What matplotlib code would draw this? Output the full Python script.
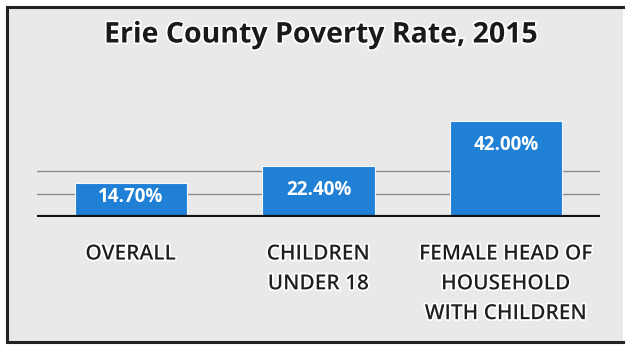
import matplotlib
matplotlib.use("Agg")
import matplotlib.pyplot as plt
from matplotlib.patches import Rectangle
from matplotlib.lines import Line2D
import matplotlib.patheffects as pe

categories = ["OVERALL", "CHILDREN\nUNDER 18", "FEMALE HEAD OF\nHOUSEHOLD\nWITH CHILDREN"]
poverty_rates = [14.7, 22.4, 42.0]
value_labels = ["14.70%", "22.40%", "42.00%"]
grid_levels = [10, 20]
title = "Erie County Poverty Rate, 2015"

plt.rcParams["font.family"] = ["Open Sans", "DejaVu Sans"]

W, H = 626, 345
fig = plt.figure(figsize=(W / 100, H / 100), dpi=100)
fig.patch.set_facecolor("white")

# gray panel with dark frame on left, top and bottom
panel_bg = "#e9e9e9"
fig.patches.append(Rectangle((7 / W, 1 - 342 / H), (623 - 7) / W, (342 - 7) / H,
                             transform=fig.transFigure, facecolor=panel_bg,
                             edgecolor="none", zorder=-2))
frame_kw = dict(transform=fig.transFigure, color="#222222", linewidth=2.2, zorder=-1)
fig.lines.append(Line2D([7 / W, 7 / W], [1 - 342 / H, 1 - 7 / H], **frame_kw))
fig.lines.append(Line2D([7 / W, 623 / W], [1 - 7 / H, 1 - 7 / H], **frame_kw))
fig.lines.append(Line2D([7 / W, 623 / W], [1 - 342 / H, 1 - 342 / H], **frame_kw))

halo = [pe.withStroke(linewidth=2.5, foreground="white")]

fig.text(321 / W, 1 - 35 / H, title, ha="center", va="center",
         fontsize=20.5, color="#1a1a1a", fontweight="bold", path_effects=halo)

ax_left, ax_right = 37, 600
base_y, top_y = 217, 102.5
ax = fig.add_axes([ax_left / W, 1 - base_y / H, (ax_right - ax_left) / W, (base_y - top_y) / H])
ax.set_zorder(2)
ax.set_facecolor("none")
ax.set_xlim(-0.5, 2.5)
ax.set_ylim(0, 50)

x = list(range(len(categories)))
for g in grid_levels:
    ax.axhline(g, color="#8c8c8c", linewidth=1.0, zorder=1)
ax.bar(x, poverty_rates, width=0.6, color="#1f80d6", edgecolor="#f4f8fc",
       linewidth=0.8, zorder=2)
ax.axhline(0, color="#111111", linewidth=3, zorder=3)

for xi, v, lab in zip(x, poverty_rates, value_labels):
    y = v - 10.6 if v - 10.6 > v / 2 else v / 2 + 1.2
    ax.text(xi, y, lab, ha="center", va="center", color="white",
            fontsize=13.5, fontweight="bold", zorder=4)

for xi, cat in zip(x, categories):
    ax.text(xi, -11.6, cat, ha="center", va="top", fontsize=15,
            color="#1e1e1e", fontweight="semibold", linespacing=1.55,
            path_effects=halo, clip_on=False)

for s in ax.spines.values():
    s.set_visible(False)
ax.set_xticks([])
ax.set_yticks([])

fig.savefig("out.png", dpi=100, facecolor=fig.get_facecolor())
